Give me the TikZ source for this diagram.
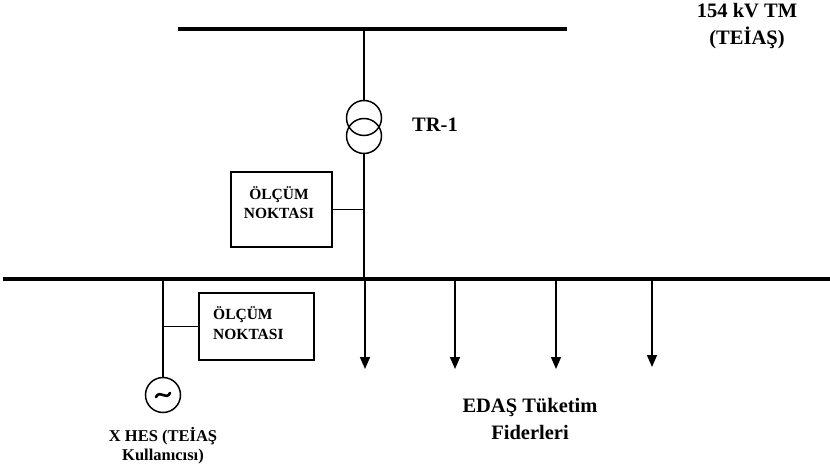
\documentclass[tikz,border=0pt]{standalone}
\usepackage{fontspec}
\setmainfont{Liberation Serif}
\usetikzlibrary{arrows.meta,calc}
\begin{document}
\begin{tikzpicture}[x=1pt,y=-1pt,
  bus/.style={line width=3.8pt},
  wire/.style={line width=1.6pt},
  feeder/.style={line width=1.6pt,-{Triangle[width=10pt,length=12pt]}},
  mbox/.style={draw,line width=1.3pt,rectangle,inner sep=0pt},
  lbl/.style={font=\bfseries\fontsize{20.5}{27}\selectfont,align=center,inner sep=0pt},
  blbl/.style={font=\bfseries\fontsize{15.5}{19.5}\selectfont,inner sep=0pt},
  slbl/.style={font=\bfseries\fontsize{16.5}{19}\selectfont,align=center,inner sep=0pt}]
\useasboundingbox (0,0) rectangle (830,470);
% busbars
\coordinate (tbL) at (178,29);
\coordinate (tbR) at (567,29);
\coordinate (lbL) at (3,279);
\coordinate (lbR) at (830,279);
\draw[bus] (tbL) -- (tbR);
\draw[bus] (lbL) -- (lbR);
% transformer
\node[circle,draw,line width=1.5pt,minimum size=35pt,inner sep=0pt] (tr1) at (364,118) {};
\node[circle,draw,line width=1.5pt,minimum size=35pt,inner sep=0pt] (tr2) at (364,136) {};
\coordinate (tap) at (364,29);
\coordinate (bj) at (364,279);
\draw[wire] (tap) -- (tr1.north);
\draw[wire] (tr2.south) -- (bj);
\node[lbl] (trl) at (435,125) {TR-1};
% measuring box 1
\node[mbox,minimum width=101pt,minimum height=75pt] (b1) at (281.5,209.5) {};
\node[blbl,align=center] (b1t) at (279,202.5) {ÖLÇÜM\\NOKTASI};
\draw[wire] (b1.east) -- (b1.east -| bj);
% feeders
\coordinate (f1s) at (365,279);
\coordinate (f2s) at (455,279);
\coordinate (f3s) at (556,279);
\coordinate (f4s) at (652,279);
\coordinate (f1e) at (365,369);
\coordinate (f2e) at (455,369);
\coordinate (f3e) at (556,369);
\coordinate (f4e) at (652,367);
\draw[feeder] (f1s) -- (f1e);
\draw[feeder] (f2s) -- (f2e);
\draw[feeder] (f3s) -- (f3e);
\draw[feeder] (f4s) -- (f4e);
% generator
\coordinate (gj) at (163,279);
\node[circle,draw,line width=1.5pt,minimum size=35pt,inner sep=0pt] (gen) at (163,395) {};
\draw[line width=2.6pt,line cap=round] ($(gen.center)+(-7,2)$) .. controls ($(gen.center)+(-3,-6)$) and ($(gen.center)+(3,6)$) .. ($(gen.center)+(7,-2)$);
\draw[wire] (gj) -- (gen.north);
% measuring box 2
\node[mbox,minimum width=115pt,minimum height=67pt] (b2) at (256.5,326.5) {};
\node[blbl,align=left,anchor=west] (b2t) at (213,323) {ÖLÇÜM\\NOKTASI};
\draw[wire] (b2.west) -- (b2.west -| gj);
% labels
\node[lbl] (tm) at (747,26) {154 kV TM\\(TEİAŞ)};
\node[lbl] (edas) at (530,419) {EDAŞ Tüketim\\Fiderleri};
\node[slbl] (hes) at (163,445.5) {X HES (TEİAŞ\\Kullanıcısı)};
\end{tikzpicture}
\end{document}
